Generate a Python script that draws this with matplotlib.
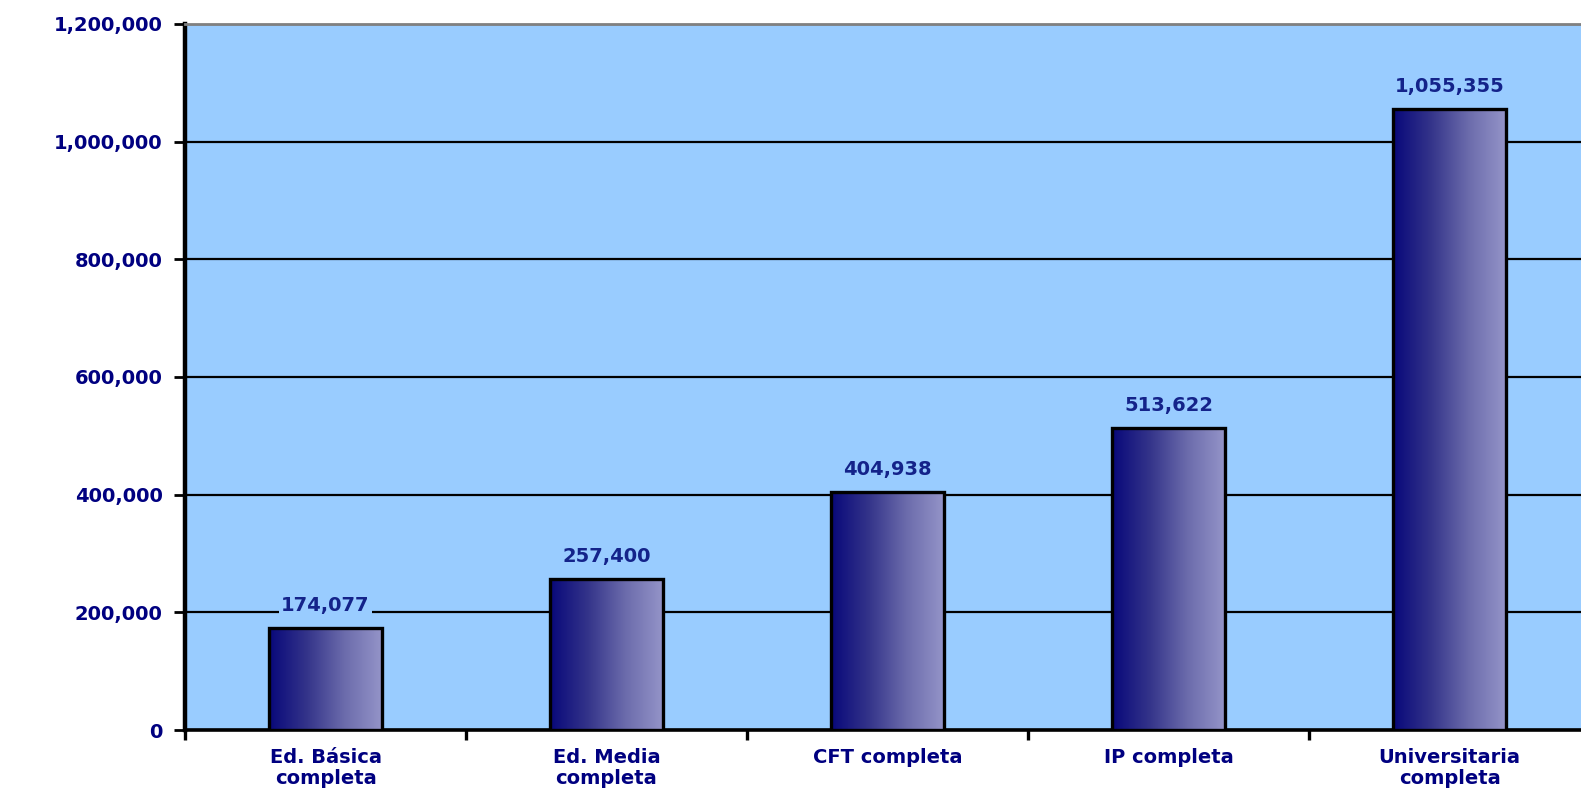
import matplotlib
matplotlib.use('Agg')
import matplotlib.pyplot as plt
import numpy as np
from matplotlib.colors import LinearSegmentedColormap
from matplotlib.ticker import FuncFormatter, FixedLocator

categories = ["Ed. Básica\ncompleta", "Ed. Media\ncompleta", "CFT completa",
              "IP completa", "Universitaria\ncompleta"]
values = [174077, 257400, 404938, 513622, 1055355]
y_ticks = [0, 200000, 400000, 600000, 800000, 1000000, 1200000]

navy = '#000080'
plot_bg = '#99ccff'

plt.rcParams['font.family'] = ['DejaVu Sans']

fig = plt.figure(figsize=(15.81, 7.88), dpi=100)
ax = fig.add_axes([185 / 1581, 1 - 730 / 788, 1405 / 1581, 706 / 788])
ax.set_facecolor(plot_bg)

x = np.arange(len(categories))
bars = ax.bar(x, values, width=0.405, facecolor='none', edgecolor='black',
              linewidth=2.4, zorder=4)

# gradient fill for each bar
grad = np.linspace(0, 1, 256).reshape(1, -1)
cmap = LinearSegmentedColormap.from_list('bar', ['#08087a', '#34348a', '#6c6cac', '#9595c9'])
for b in bars:
    x0, y0 = b.get_x(), b.get_y()
    ax.imshow(grad, cmap=cmap, aspect='auto', zorder=3,
              extent=[x0, x0 + b.get_width(), y0, y0 + b.get_height()])

ax.set_xlim(-0.5, len(categories) - 0.5)
ax.set_ylim(0, 1200000)

ax.yaxis.set_major_locator(FixedLocator(y_ticks))
ax.yaxis.set_major_formatter(FuncFormatter(lambda v, p: f"{int(v):,}"))
ax.grid(axis='y', color='black', linewidth=1.6, zorder=1)
ax.set_axisbelow(True)

ax.set_xticks(x)
ax.set_xticklabels(categories)
ax.set_xticks(np.arange(-0.5, len(categories)), minor=True)
ax.tick_params(axis='x', which='major', length=0, pad=13, labelsize=14,
               labelcolor=navy)
ax.tick_params(axis='x', which='minor', length=7, width=2.4, direction='out',
               color='black')
ax.tick_params(axis='y', length=8, width=2, color='black', pad=8,
               labelsize=14, labelcolor=navy)
for lbl in ax.get_xticklabels() + ax.get_yticklabels():
    lbl.set_fontweight('bold')
for lbl in ax.get_xticklabels():
    lbl.set_linespacing(1.15)

ax.spines['left'].set_linewidth(3.2)
ax.spines['bottom'].set_linewidth(2.6)
ax.spines['top'].set_color('#808080')
ax.spines['top'].set_linewidth(2)
ax.spines['right'].set_visible(False)

for b, v in zip(bars, values):
    ax.annotate(f"{v:,}", (b.get_x() + b.get_width() / 2, v),
                xytext=(0, 16), textcoords='offset points',
                ha='center', va='center', fontsize=14, fontweight='bold',
                color='#14238a', zorder=5,
                bbox=dict(facecolor=plot_bg, edgecolor='none', pad=2))

fig.savefig('out.png', dpi=100)
